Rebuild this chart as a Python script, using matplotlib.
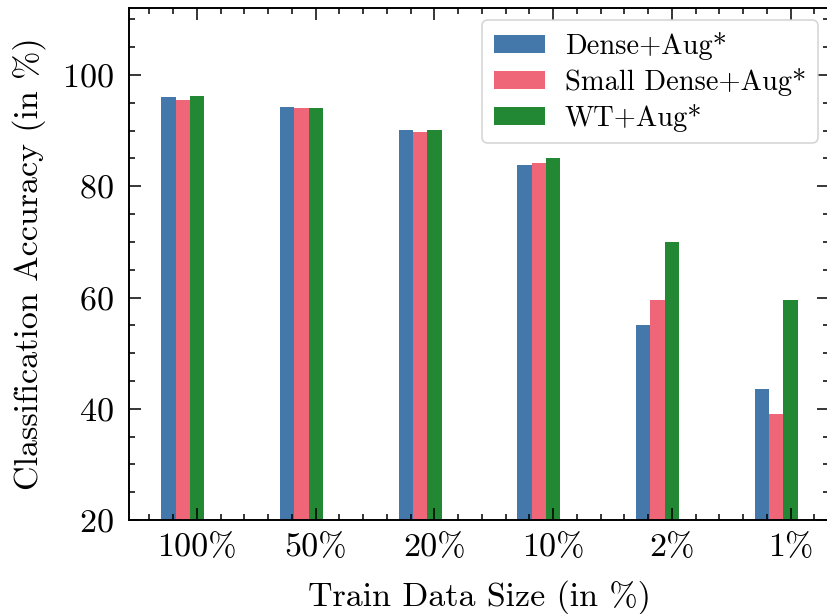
import numpy as np
import matplotlib
matplotlib.use("Agg")
import matplotlib.pyplot as plt
from matplotlib.ticker import MultipleLocator

plt.rcParams['font.family'] = ['cmr10', 'DejaVu Serif']
plt.rcParams['mathtext.fontset'] = 'cm'
plt.rcParams['axes.unicode_minus'] = False
plt.rcParams['axes.formatter.use_mathtext'] = True

categories = ['100%', '50%', '20%', '10%', '2%', '1%']
dense_aug = [96.0, 94.2, 90.1, 83.9, 55.1, 43.6]
small_dense_aug = [95.6, 94.0, 89.8, 84.2, 59.6, 39.0]
wt_aug = [96.3, 94.0, 90.1, 85.1, 70.0, 59.6]
series_names = ['Dense+Aug*', 'Small Dense+Aug*', 'WT+Aug*']
colors = ['#4477AA', '#EE6677', '#228833']

fig = plt.figure(figsize=(8.28, 6.14), dpi=100)
W, H = 828, 614
left, right, bottom, top = 129.5, 829.5, 520, 8.3
ax = fig.add_axes([left / W, (H - bottom) / H, (right - left) / W, (bottom - top) / H])

x = np.arange(len(categories))
w = 0.12
for k, (vals, name, c) in enumerate(zip([dense_aug, small_dense_aug, wt_aug], series_names, colors)):
    ax.bar(x + (k - 2) * w, vals, width=w, color=c, label=name)

ax.set_ylim(20, 112)
ax.set_xticks(x)
ax.set_xticklabels(categories)
ax.xaxis.set_minor_locator(MultipleLocator(0.2))
ax.yaxis.set_major_locator(MultipleLocator(20))
ax.yaxis.set_minor_locator(MultipleLocator(5))

for s in ax.spines.values():
    s.set_linewidth(1.4)
ax.tick_params(which='both', direction='in', top=True, right=True, width=1.1)
ax.tick_params(which='major', length=8.4)
ax.tick_params(which='minor', length=4.3)
ax.tick_params(axis='x', which='major', pad=9, labelsize=24.5)
ax.tick_params(axis='y', which='major', pad=11, labelsize=24.5)

ax.set_xlabel('Train Data Size (in %)', fontsize=24.5, labelpad=13)
ax.set_ylabel('Classification Accuracy (in %)', fontsize=24.5, labelpad=12)

leg = ax.legend(loc='upper right', fontsize=20.5, frameon=True, fancybox=True,
                borderaxespad=0.42, handlelength=1.8, handleheight=0.6,
                handletextpad=0.7, labelspacing=0.28, borderpad=0.4)
leg.get_frame().set_edgecolor('#cccccc')
leg.get_frame().set_linewidth(1.2)

fig.savefig('out.png', dpi=100)
